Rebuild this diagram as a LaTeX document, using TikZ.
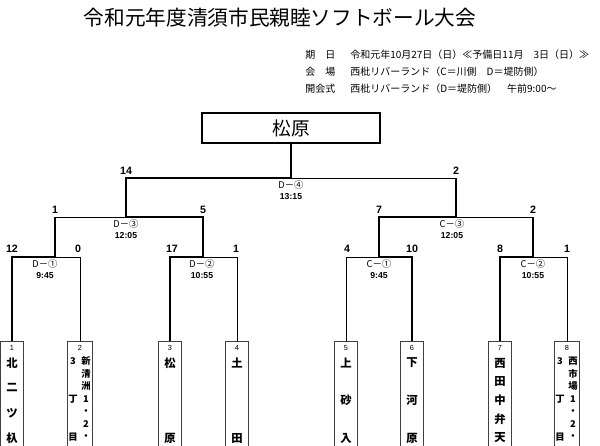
\documentclass[tikz,border=0pt]{standalone}
\usepackage{fontspec}
\setmainfont{Liberation Sans}
\newfontfamily\cjk{Noto Sans CJK JP}
\newcommand\vnames[6]{% style, prefix, x, y0, step, list
  \foreach \c [count=\i from 0] in {#6} \node[#1] (#2-\i) at (#3, {#4+\i*#5}) {\c};}
\begin{document}
\begin{tikzpicture}[x=0.75pt,y=-0.75pt,
  win/.style={line width=2.2pt,line join=miter},
  lose/.style={line width=0.7pt},
  score/.style={font=\bfseries\fontsize{8}{8}\selectfont,inner sep=0},
  mlab/.style={font=\cjk\fontsize{7}{7}\selectfont,inner sep=0},
  mtime/.style={font=\bfseries\fontsize{6.5}{6.5}\selectfont,inner sep=0},
  team/.style={draw=black!75,line width=0.9pt,minimum width=17pt,minimum height=90pt,anchor=north,inner sep=0},
  wteam/.style={team,minimum width=19pt},
  tnum/.style={font=\fontsize{5.5}{5.5}\selectfont,inner sep=0},
  tname/.style={font=\cjk\bfseries\fontsize{8.5}{8.5}\selectfont,inner sep=0},
  tsmall/.style={font=\cjk\bfseries\fontsize{7}{7}\selectfont,inner sep=0},
  info/.style={font=\cjk\fontsize{7.5}{7.5}\selectfont,inner sep=0,anchor=west}]
\useasboundingbox (0,0) rectangle (600,446);
% title and info
\node[font=\cjk\fontsize{15.5}{15.5}\selectfont,inner sep=0] (title) at (280,18) {令和元年度清須市民親睦ソフトボール大会};
\node[info] (i1a) at (305,55) {期　日};
\node[info] (i1b) at (350,55) {令和元年10月27日（日）≪予備日11月　3日（日）≫};
\node[info] (i2a) at (305,72) {会　場};
\node[info] (i2b) at (350,72) {西枇リバーランド（C＝川側　D＝堤防側）};
\node[info] (i3a) at (305,89) {開会式};
\node[info] (i3b) at (350,89) {西枇リバーランド（D＝堤防側）　午前9:00～};
% champion box
\node[draw,line width=2.2pt,minimum width=133.5pt,minimum height=22.5pt,inner sep=0,font=\cjk\fontsize{14}{14}\selectfont] (champ) at (291,128) {松原};
% team boxes
\node[team] (t1) at (12,341) {};
\node[wteam] (t2) at (80,341) {};
\node[team] (t3) at (170,341) {};
\node[team] (t4) at (237,341) {};
\node[team] (t5) at (346,341) {};
\node[team] (t6) at (412,341) {};
\node[team] (t7) at (500,341) {};
\node[wteam] (t8) at (567,341) {};
% junctions
\coordinate (j1) at (55,257);
\coordinate (j2) at (203,257);
\coordinate (j3) at (379,257);
\coordinate (j4) at (533,257);
\coordinate (s1) at (126,217);
\coordinate (s2) at (456,217);
\coordinate (f) at (291,178);
% first round
\draw[win] (t1.north) |- (j1);
\draw[lose] (t2.north) |- (j1);
\draw[win] (t3.north) |- (j2);
\draw[lose] (t4.north) |- (j2);
\draw[lose] (t5.north) |- (j3);
\draw[win] (t6.north) |- (j3);
\draw[win] (t7.north) |- (j4);
\draw[lose] (t8.north) |- (j4);
% semis
\coordinate (j1u) at (j1 |- s1);
\coordinate (j4u) at (j4 |- s2);
\draw[win] (j1) -- (j1u);
\draw[lose] (j1u) -- (s1);
\draw[win] (j2) |- (s1);
\draw[win] (j3) |- (s2);
\draw[win] (j4) -- (j4u);
\draw[lose] (j4u) -- (s2);
% final
\coordinate (s2u) at (s2 |- f);
\draw[win] (s1) |- (f);
\draw[win] (s2) -- (s2u);
\draw[lose] (s2u) -- (f);
\draw[win] (f) -- (champ.south);
% scores
\node[score] (sc1) at (126,171) {14};
\node[score] (sc2) at (456,171) {2};
\node[score] (sc3) at (55,210) {1};
\node[score] (sc4) at (203,210) {5};
\node[score] (sc5) at (379,210) {7};
\node[score] (sc6) at (533,210) {2};
\node[score] (sc7) at (12,249) {12};
\node[score] (sc8) at (78,249) {0};
\node[score] (sc9) at (172,249) {17};
\node[score] (sc10) at (236,249) {1};
\node[score] (sc11) at (347,249) {4};
\node[score] (sc12) at (412,249) {10};
\node[score] (sc13) at (500,249) {8};
\node[score] (sc14) at (567,249) {1};
% match labels
\node[mlab] (mD4) at (291,185) {D－④};
\node[mtime] (tD4) at (291,197) {13:15};
\node[mlab] (mD3) at (126,224) {D－③};
\node[mtime] (tD3) at (126,236) {12:05};
\node[mlab] (mC3) at (452,224) {C－③};
\node[mtime] (tC3) at (452,236) {12:05};
\node[mlab] (mD1) at (45,264) {D－①};
\node[mtime] (tD1) at (45,276) {9:45};
\node[mlab] (mD2) at (202,264) {D－②};
\node[mtime] (tD2) at (202,276) {10:55};
\node[mlab] (mC1) at (379,264) {C－①};
\node[mtime] (tC1) at (379,276) {9:45};
\node[mlab] (mC2) at (533,264) {C－②};
\node[mtime] (tC2) at (533,276) {10:55};
% team numbers
\node[tnum] (n1) at (12,348) {1};
\node[tnum] (n2) at (80,348) {2};
\node[tnum] (n3) at (170,348) {3};
\node[tnum] (n4) at (237,348) {4};
\node[tnum] (n5) at (346,348) {5};
\node[tnum] (n6) at (412,348) {6};
\node[tnum] (n7) at (500,348) {7};
\node[tnum] (n8) at (567,348) {8};
% team names
\vnames{tname}{a1}{12}{363}{25}{北,二,ツ,杁}
\vnames{tsmall}{a2r}{86}{361}{12.67}{新,清,洲,1,・,2,・}
\vnames{tsmall}{a2l}{73}{361}{38}{3,丁,目}
\vnames{tname}{a3}{170}{363}{75}{松,原}
\vnames{tname}{a4}{237}{363}{75}{土,田}
\vnames{tname}{a5}{346}{363}{37.5}{上,砂,入}
\vnames{tname}{a6}{412}{363}{37.5}{下,河,原}
\vnames{tname}{a7}{500}{363}{18.75}{西,田,中,弁,天}
\vnames{tsmall}{a8r}{573}{361}{12.67}{西,市,場,1,・,2,・}
\vnames{tsmall}{a8l}{560}{361}{38}{3,丁,目}
\end{tikzpicture}
\end{document}
